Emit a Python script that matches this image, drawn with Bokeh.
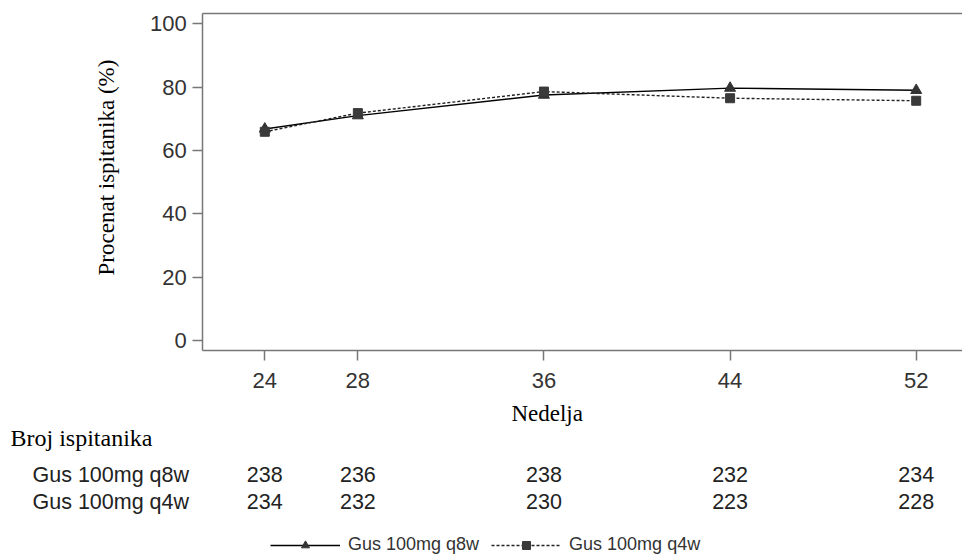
import math
from bokeh.plotting import figure
from bokeh.models import (Range1d, LinearAxis, FixedTicker, Legend, LegendItem, ColumnDataSource)
from bokeh.embed import file_html
from bokeh.resources import INLINE
from bokeh.core.properties import value

# ---- data ----
weeks = [24, 28, 36, 44, 52]
pct_q8w = [66.8, 71.0, 77.5, 79.7, 79.0]
pct_q4w = [65.9, 71.8, 78.6, 76.5, 75.7]
n_q8w = [238, 236, 238, 232, 234]
n_q4w = [234, 232, 230, 223, 228]
series_names = ["Gus 100mg q8w", "Gus 100mg q4w"]
y_ticks = [0, 20, 40, 60, 80, 100]
y_title = "Procenat ispitanika (%)"
x_title = "Nedelja"
table_title = "Broj ispitanika"

# ---- layout (pixels of the canvas) ----
W, H = 962, 554
PXW, TICK0 = 23.264, 264.3      # px per week, px of week 24
PXY, Y0 = 3.167, 340.0          # px per percent, px of 0 %
FRAME_L, FRAME_T, FRAME_B = 202.3, 13.3, 350.0
GRAY = "#777777"
SANS, SERIF = "Liberation Sans", "Liberation Serif"


def dx(px):
    return weeks[0] + (px - TICK0) / PXW


def dy(py):
    return (Y0 - py) / PXY


p = figure(width=W, height=H,
           x_range=Range1d(dx(0), dx(W)), y_range=Range1d(dy(H), dy(0)),
           x_axis_type=None, y_axis_type=None,
           output_backend="svg", toolbar_location=None,
           min_border=0, min_border_left=0, min_border_right=0,
           min_border_top=0, min_border_bottom=0)
p.outline_line_color = None
p.grid.visible = False
p.background_fill_color = "white"


def style(ax):
    ax.axis_line_color = GRAY
    ax.axis_line_width = 1.5
    ax.major_tick_line_color = GRAY
    ax.major_tick_line_width = 1.5
    ax.major_tick_out = 10
    ax.major_tick_in = 0
    ax.minor_tick_line_color = None
    ax.major_label_text_font = SANS
    ax.major_label_text_font_size = "22px"
    ax.major_label_text_color = "#333333"


xaxis = LinearAxis(ticker=FixedTicker(ticks=weeks), fixed_location=dy(FRAME_B),
                   bounds=(dx(FRAME_L), dx(W)), major_label_standoff=12)
style(xaxis)
p.add_layout(xaxis, "below")

yaxis = LinearAxis(ticker=FixedTicker(ticks=y_ticks), fixed_location=dx(FRAME_L),
                   bounds=(dy(FRAME_B), dy(FRAME_T)), major_label_standoff=6)
style(yaxis)
p.add_layout(yaxis, "left")

topline = LinearAxis(ticker=FixedTicker(ticks=[]), fixed_location=dy(FRAME_T),
                     bounds=(dx(FRAME_L), dx(W)), axis_line_color=GRAY, axis_line_width=1.5,
                     major_tick_out=0, major_tick_in=0, minor_tick_out=0, minor_tick_in=0,
                     major_label_standoff=0)
p.add_layout(topline, "above")

src = ColumnDataSource(dict(w=weeks, a=pct_q8w, b=pct_q4w))
l1 = p.line("w", "a", source=src, line_color="black", line_width=1.4)
m1 = p.scatter("w", "a", source=src, marker="triangle", size=11,
               fill_color="#333333", line_color="#333333")
l2 = p.line("w", "b", source=src, line_color="#222222", line_width=1.4, line_dash="3 2")
m2 = p.scatter("w", "b", source=src, marker="square", size=9,
               fill_color="#3a3a3a", line_color="#3a3a3a")

# axis titles
p.text(x=[dx(106)], y=[dy(167)], text=[y_title], angle=math.pi / 2,
       text_font=value(SERIF), text_font_size="23px", text_align="center",
       text_baseline="middle", text_color="black")
p.text(x=[dx(546.7)], y=[dy(413)], text=[x_title],
       text_font=value(SERIF), text_font_size="23px", text_align="center",
       text_baseline="middle", text_color="black")

# number-at-risk table
p.text(x=[dx(10)], y=[dy(437)], text=[table_title],
       text_font=value(SERIF), text_font_size="24px", text_align="left",
       text_baseline="middle", text_color="black")
row_px = [474, 501]
for name, counts, ypx in zip(series_names, [n_q8w, n_q4w], row_px):
    p.text(x=[dx(32)], y=[dy(ypx)], text=[name],
           text_font=value(SANS), text_font_size="21.5px", text_align="left",
           text_baseline="middle", text_color="#222222")
    p.text(x=weeks, y=[dy(ypx)] * len(weeks), text=[str(c) for c in counts],
           text_font=value(SANS), text_font_size="21.5px", text_align="center",
           text_baseline="middle", text_color="#222222")

legend = Legend(items=[LegendItem(label=series_names[0], renderers=[l1, m1]),
                       LegendItem(label=series_names[1], renderers=[l2, m2])],
                orientation="horizontal", location=(270, H - 555),
                glyph_width=70, glyph_height=20, label_height=20, label_standoff=8,
                padding=0, margin=0, spacing=12, border_line_color=None,
                background_fill_alpha=0, label_text_font=SANS, label_text_font_size="18px",
                label_text_color="#333333")
p.add_layout(legend, "center")

open("out.html", "w").write(file_html(p, INLINE))
